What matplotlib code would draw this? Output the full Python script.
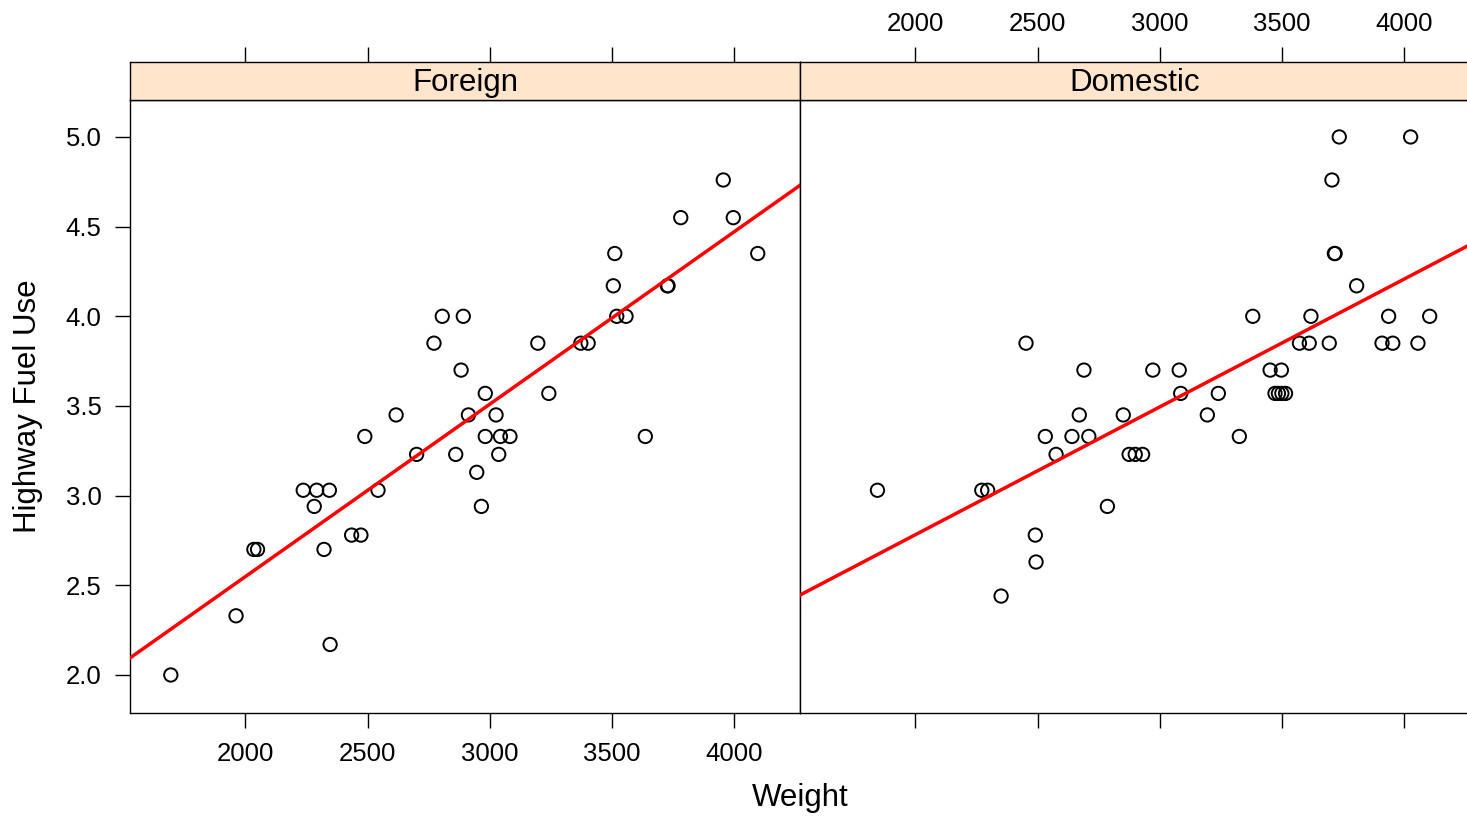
import numpy as np
import matplotlib
matplotlib.use("Agg")
import matplotlib.pyplot as plt

plt.rcParams['font.family'] = ['Liberation Sans', 'DejaVu Sans']

panels = ["Foreign", "Domestic"]

foreign_weight = [1695, 1962, 2035, 2050, 2237, 2292, 2344, 2282, 2322, 2347,
                  2435, 2473, 2489, 2543, 2617, 2701, 2772, 2806, 2892, 2883,
                  2861, 2913, 2947, 2966, 2982, 2982, 3026, 3037, 3044, 3083,
                  3197, 3242, 3373, 3403, 3512, 3506, 3520, 3558, 3637, 3727,
                  3730, 3782, 3956, 3997, 4097]
foreign_fuel = [2.00, 2.33, 2.70, 2.70, 3.03, 3.03, 3.03, 2.94, 2.70, 2.17,
                2.78, 2.78, 3.33, 3.03, 3.45, 3.23, 3.85, 4.00, 4.00, 3.70,
                3.23, 3.45, 3.13, 2.94, 3.57, 3.33, 3.45, 3.23, 3.33, 3.33,
                3.85, 3.57, 3.85, 3.85, 4.35, 4.17, 4.00, 4.00, 3.33, 4.17,
                4.17, 4.55, 4.76, 4.55, 4.35]

domestic_weight = [1845, 2272, 2296, 2351, 2453, 2491, 2494, 2532, 2576, 2641,
                   2671, 2690, 2710, 2786, 2851, 2875, 2900, 2930, 2972, 3080,
                   3086, 3195, 3240, 3326, 3381, 3452, 3498, 3472, 3486, 3500,
                   3515, 3572, 3612, 3619, 3694, 3705, 3715, 3718, 3735, 3806,
                   3910, 3937, 3954, 4027, 4057, 4105]
domestic_fuel = [3.03, 3.03, 3.03, 2.44, 3.85, 2.78, 2.63, 3.33, 3.23, 3.33,
                 3.45, 3.70, 3.33, 2.94, 3.45, 3.23, 3.23, 3.23, 3.70, 3.70,
                 3.57, 3.45, 3.57, 3.33, 4.00, 3.70, 3.70, 3.57, 3.57, 3.57,
                 3.57, 3.85, 3.85, 4.00, 3.85, 4.76, 4.35, 4.35, 5.00, 4.17,
                 3.85, 4.00, 3.85, 5.00, 3.85, 4.00]

x_ticks = [2000, 2500, 3000, 3500, 4000]
y_ticks = [2.0, 2.5, 3.0, 3.5, 4.0, 4.5, 5.0]
x_label = "Weight"
y_label = "Highway Fuel Use"

W, H = 1467, 816
fig = plt.figure(figsize=(W / 100, H / 100), dpi=100)

xlim = (1528, 4270)
ylim = (1.788, 5.206)

def fx(px):
    return px / W

def fy(py):
    return 1 - py / H

panel_left = [130, 800]
panel_w = 670
top_data, bot_data = 100, 713
strip_top = 62

TICK_FS = 18.5
LAB_FS = 22.5

data = [(foreign_weight, foreign_fuel), (domestic_weight, domestic_fuel)]

tick_kw = dict(length=11, width=1.0, color='black', labelsize=TICK_FS, direction='out')

for i, name in enumerate(panels):
    x0 = panel_left[i]
    ax = fig.add_axes([fx(x0), fy(bot_data), panel_w / W, (bot_data - top_data) / H])
    wx, fu = data[i]
    wx = np.asarray(wx, float)
    fu = np.asarray(fu, float)
    ax.scatter(wx, fu, s=92, facecolors='none', edgecolors='black', linewidths=1.4, zorder=3)
    b, a = np.polyfit(wx, fu, 1)
    xs = np.array(xlim)
    ax.plot(xs, a + b * xs, color='red', lw=2.5, zorder=4)
    ax.set_xlim(*xlim)
    ax.set_ylim(*ylim)
    ax.set_xticks(x_ticks)
    ax.set_yticks(y_ticks)
    ax.set_yticklabels([f"{v:.1f}" for v in y_ticks])
    ax.tick_params(axis='both', **tick_kw)
    ax.tick_params(axis='x', pad=10)
    ax.tick_params(axis='y', pad=9.5)
    if i == 0:
        ax.tick_params(axis='x', labelbottom=True)
        ax.tick_params(axis='y', left=True, labelleft=True)
    else:
        ax.tick_params(axis='x', labelbottom=False)
        ax.tick_params(axis='y', left=False, labelleft=False)
    for sp in ax.spines.values():
        sp.set_linewidth(1.0)
        sp.set_color('black')

    # strip
    sax = fig.add_axes([fx(x0), fy(top_data), panel_w / W, (top_data - strip_top) / H])
    sax.set_facecolor('#FFE5CC')
    sax.set_xlim(*xlim)
    sax.set_ylim(0, 1)
    sax.set_yticks([])
    sax.set_xticks(x_ticks)
    sax.tick_params(axis='x', top=True, bottom=False, labelbottom=False,
                    labeltop=(i == 1), pad=8, length=11, width=1.0,
                    labelsize=TICK_FS, direction='out')
    for sp in sax.spines.values():
        sp.set_linewidth(1.0)
        sp.set_color('black')
    sax.text(0.5, 0.46, name, transform=sax.transAxes, ha='center', va='center',
             fontsize=LAB_FS)

fig.text(fx(800), fy(798), x_label, ha='center', va='center', fontsize=LAB_FS)
fig.text(fx(28), fy(406), y_label, ha='center', va='center', rotation=90, fontsize=LAB_FS)

fig.savefig("out.png", dpi=100)
